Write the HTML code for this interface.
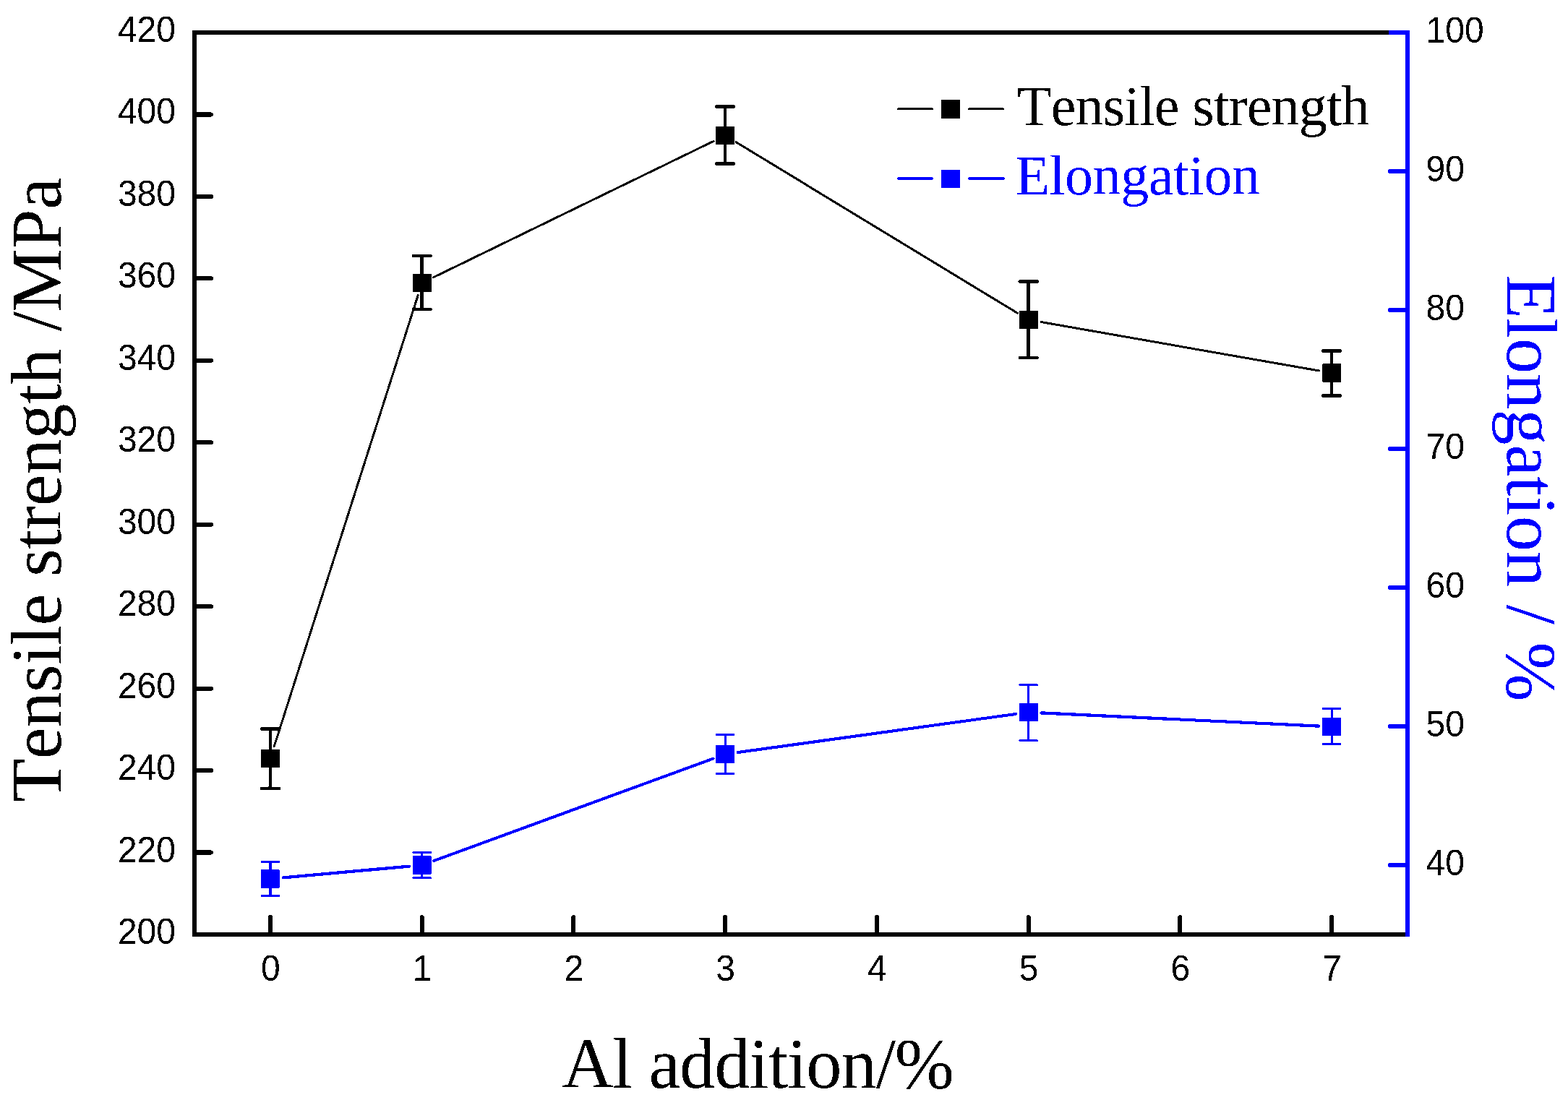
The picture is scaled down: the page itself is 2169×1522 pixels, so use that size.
<!DOCTYPE html><html><head><meta charset="utf-8"><style>html,body{margin:0;padding:0;background:#fff;}svg{display:block;}</style></head><body>
<svg width="2169" height="1522" viewBox="0 0 2169 1522">
<rect width="2169" height="1522" fill="#fff"/>
<filter id="crisp" filterUnits="userSpaceOnUse" x="0" y="0" width="2169" height="1522"><feComponentTransfer><feFuncA type="discrete" tableValues="0 1"/></feComponentTransfer></filter>
<g filter="url(#crisp)">
<path d="M269 45H1947M269 1293H1947M269 42V1296" stroke="#000" stroke-width="6" fill="none"/>
<path d="M269 1293.00H292M269 1179.55H292M269 1066.09H292M269 952.64H292M269 839.18H292M269 725.73H292M269 612.27H292M269 498.82H292M269 385.36H292M269 271.91H292M269 158.45H292M269 45.00H292" stroke="#000" stroke-width="6" stroke-linecap="round" fill="none"/>
<path d="M373.90 1293V1269M583.65 1293V1269M793.40 1293V1269M1003.15 1293V1269M1212.90 1293V1269M1422.65 1293V1269M1632.40 1293V1269M1842.15 1293V1269" stroke="#000" stroke-width="6" stroke-linecap="round" fill="none"/>
<path d="M1947 1197.00H1923M1947 1005.00H1923M1947 813.00H1923M1947 621.00H1923M1947 429.00H1923M1947 237.00H1923" stroke="#00f" stroke-width="6" stroke-linecap="round" fill="none"/>
<path d="M1947 42V1296M1947 45H1921" stroke="#00f" stroke-width="6" fill="none"/>
<g font-family="'Liberation Sans', Arial, sans-serif" font-size="48" fill="#000">
<text transform="translate(243 1306.00) scale(1 1.05)" text-anchor="end">200</text>
<text transform="translate(243 1192.55) scale(1 1.05)" text-anchor="end">220</text>
<text transform="translate(243 1079.09) scale(1 1.05)" text-anchor="end">240</text>
<text transform="translate(243 965.64) scale(1 1.05)" text-anchor="end">260</text>
<text transform="translate(243 852.18) scale(1 1.05)" text-anchor="end">280</text>
<text transform="translate(243 738.73) scale(1 1.05)" text-anchor="end">300</text>
<text transform="translate(243 625.27) scale(1 1.05)" text-anchor="end">320</text>
<text transform="translate(243 511.82) scale(1 1.05)" text-anchor="end">340</text>
<text transform="translate(243 398.36) scale(1 1.05)" text-anchor="end">360</text>
<text transform="translate(243 284.91) scale(1 1.05)" text-anchor="end">380</text>
<text transform="translate(243 171.45) scale(1 1.05)" text-anchor="end">400</text>
<text transform="translate(243 58.00) scale(1 1.05)" text-anchor="end">420</text>
<text transform="translate(1972.5 1210.50) scale(1 1.05)">40</text>
<text transform="translate(1972.5 1018.50) scale(1 1.05)">50</text>
<text transform="translate(1972.5 826.50) scale(1 1.05)">60</text>
<text transform="translate(1972.5 634.50) scale(1 1.05)">70</text>
<text transform="translate(1972.5 442.50) scale(1 1.05)">80</text>
<text transform="translate(1972.5 250.50) scale(1 1.05)">90</text>
<text transform="translate(1972.5 58.50) scale(1 1.05)">100</text>
<text transform="translate(374.40 1356.7) scale(1 1.05)" text-anchor="middle">0</text>
<text transform="translate(584.15 1356.7) scale(1 1.05)" text-anchor="middle">1</text>
<text transform="translate(793.90 1356.7) scale(1 1.05)" text-anchor="middle">2</text>
<text transform="translate(1003.65 1356.7) scale(1 1.05)" text-anchor="middle">3</text>
<text transform="translate(1213.40 1356.7) scale(1 1.05)" text-anchor="middle">4</text>
<text transform="translate(1423.15 1356.7) scale(1 1.05)" text-anchor="middle">5</text>
<text transform="translate(1632.90 1356.7) scale(1 1.05)" text-anchor="middle">6</text>
<text transform="translate(1842.65 1356.7) scale(1 1.05)" text-anchor="middle">7</text>
</g>
<g font-family="'Liberation Serif', 'Times New Roman', serif" font-size="98.5" style="font-kerning:none">
<text transform="translate(84 1110) rotate(-90)" fill="#000" textLength="864" lengthAdjust="spacing">Tensile strength /MPa</text>
<text transform="translate(2085 380.5) rotate(90)" fill="#00f" textLength="590" lengthAdjust="spacing">Elongation / %</text>
<text x="777.5" y="1505" fill="#000" textLength="542.4" lengthAdjust="spacing">Al addition/%</text>
</g>
<g font-family="'Liberation Serif', 'Times New Roman', serif" font-size="78" style="font-kerning:none">
<text x="1407" y="172.8" fill="#000" textLength="487.6" lengthAdjust="spacing">Tensile strength</text>
<text x="1404.5" y="268.7" fill="#00f" textLength="338.6" lengthAdjust="spacing">Elongation</text>
</g>
<path d="M1242.5 150.5H1289.5M1340.5 150.5H1387.5" stroke="#000" stroke-width="3" stroke-linecap="round"/>
<rect x="1302" y="138" width="26" height="26" fill="#000"/>
<path d="M1243 247H1289M1341 247H1388" stroke="#00f" stroke-width="4.2" stroke-linecap="round"/>
<rect x="1302" y="235" width="26" height="25" fill="#00f"/>
<path d="M379.28 1032.64L578.27 408.36M599.57 383.76L987.23 195.24M1018.27 196.69L1407.53 433.31M1440.08 445.55L1824.72 512.95" stroke="#000" stroke-width="3" stroke-linecap="round" fill="none"/>
<path d="M373.90 1008.50V1091.00M583.65 354.00V428.00M1003.15 147.50V226.50M1422.65 389.50V495.00M1842.15 485.50V547.50" stroke="#000" stroke-width="4.5" fill="none"/>
<path d="M361.90 1008.50H385.90M361.90 1091.00H385.90M571.65 354.00H595.65M571.65 428.00H595.65M991.15 147.50H1015.15M991.15 226.50H1015.15M1410.65 389.50H1434.65M1410.65 495.00H1434.65M1830.15 485.50H1854.15M1830.15 547.50H1854.15" stroke="#000" stroke-width="4.6" stroke-linecap="round" fill="none"/>
<rect x="360.90" y="1037.00" width="26" height="25" fill="#000"/>
<rect x="570.65" y="379.00" width="26" height="25" fill="#000"/>
<rect x="990.15" y="175.00" width="26" height="25" fill="#000"/>
<rect x="1409.65" y="430.00" width="26" height="25" fill="#000"/>
<rect x="1829.15" y="503.50" width="26" height="25" fill="#000"/>
<path d="M391.53 1214.40L566.02 1198.60M600.27 1190.92L986.53 1049.58M1020.68 1041.08L1405.12 987.92M1440.33 986.34L1824.47 1004.66" stroke="#00f" stroke-width="4.1" stroke-linecap="round" fill="none"/>
<path d="M373.90 1192.50V1239.50M583.65 1179.40V1214.60M1003.15 1016.50V1070.50M1422.65 947.50V1024.50M1842.15 980.50V1029.50" stroke="#00f" stroke-width="3.2" fill="none"/>
<path d="M362.15 1192.50H385.65M362.15 1239.50H385.65M571.90 1179.40H595.40M571.90 1214.60H595.40M991.40 1016.50H1014.90M991.40 1070.50H1014.90M1410.90 947.50H1434.40M1410.90 1024.50H1434.40M1830.40 980.50H1853.90M1830.40 1029.50H1853.90" stroke="#00f" stroke-width="3.2" stroke-linecap="round" fill="none"/>
<rect x="360.90" y="1203.50" width="26" height="25" fill="#00f"/>
<rect x="570.65" y="1184.50" width="26" height="25" fill="#00f"/>
<rect x="990.15" y="1031.00" width="26" height="25" fill="#00f"/>
<rect x="1409.65" y="973.00" width="26" height="25" fill="#00f"/>
<rect x="1829.15" y="993.00" width="26" height="25" fill="#00f"/>
</g>
</svg></body></html>
